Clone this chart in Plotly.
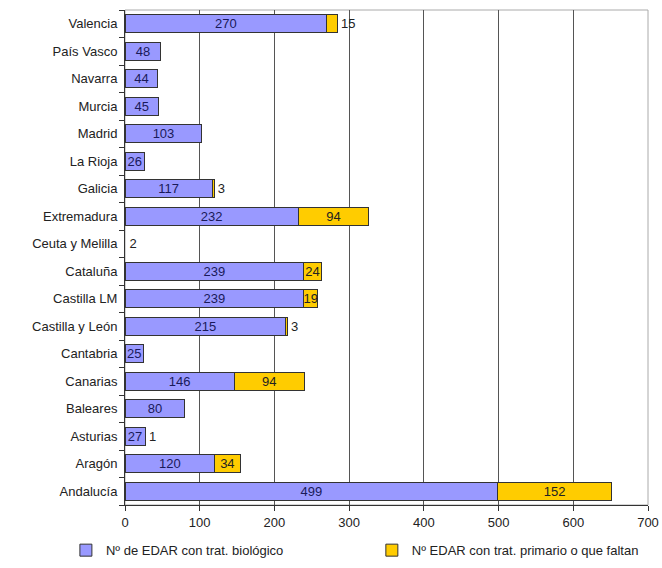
import plotly.graph_objects as go

categories = ["Andalucía", "Aragón", "Asturias", "Baleares", "Canarias", "Cantabria",
              "Castilla y León", "Castilla LM", "Cataluña", "Ceuta y Melilla", "Extremadura",
              "Galicia", "La Rioja", "Madrid", "Murcia", "Navarra", "País Vasco", "Valencia"]
biologico = [499, 120, 27, 80, 146, 25, 215, 239, 239, None, 232, 117, 26, 103, 45, 44, 48, 270]
primario = [152, 34, 1, None, 94, None, 3, 19, 24, 2, 94, 3, None, None, None, None, None, 15]
x_ticks = [0, 100, 200, 300, 400, 500, 600, 700]

name_bio = "Nº de EDAR con trat. biológico"
name_pri = "Nº EDAR con trat. primario o que faltan"

font_family = "Liberation Sans, Arial, sans-serif"

def lbl(v):
    return "" if v is None else str(v)

pri_pos = ["outside" if (v is not None and v < 16) else "inside" for v in primario]
pri_line_w = [0 if c == "Ceuta y Melilla" else 1 for c in categories]
pri_colors = ["rgba(0,0,0,0)" if c == "Ceuta y Melilla" else "#FFCC00" for c in categories]

fig = go.Figure()
fig.add_trace(go.Bar(
    y=categories, x=biologico, orientation="h", name=name_bio, legend="legend",
    showlegend=True,
    marker=dict(color="#9999FF", line=dict(color="#333333", width=1)),
    text=[lbl(v) for v in biologico], textposition="inside", insidetextanchor="middle",
    textangle=0, constraintext="none",
    textfont=dict(color="#1a1a5a", size=13, family=font_family),
))
fig.add_trace(go.Bar(
    y=categories, x=primario, orientation="h", name=name_pri, legend="legend2",
    showlegend=True,
    marker=dict(color=pri_colors, line=dict(color="#333333", width=pri_line_w)),
    text=[lbl(v) for v in primario], textposition=pri_pos, insidetextanchor="middle",
    textangle=0, constraintext="none", cliponaxis=False,
    textfont=dict(color="#222222", size=13, family=font_family),
))

fig.update_layout(
    barmode="stack", bargap=0.34,
    width=662, height=568,
    margin=dict(l=125, r=14, t=10, b=63, autoexpand=False),
    paper_bgcolor="white", plot_bgcolor="white",
    font=dict(family=font_family, size=12, color="#222222"),
    showlegend=True,
    legend=dict(orientation="h", x=-0.113, xanchor="left", y=-0.061, yanchor="top",
                font=dict(size=13), itemclick=False, bgcolor="rgba(0,0,0,0)"),
    legend2=dict(orientation="h", x=0.472, xanchor="left", y=-0.061, yanchor="top",
                 font=dict(size=13), itemclick=False, bgcolor="rgba(0,0,0,0)"),
    xaxis=dict(range=[0, 700], tickvals=x_ticks, showgrid=True, gridcolor="#555555",
               gridwidth=1, showline=True, linecolor="#333333", linewidth=1,
               ticks="outside", ticklen=5, tickcolor="#333333", zeroline=False,
               automargin=False, tickfont=dict(size=13, color="#222222")),
    yaxis=dict(categoryorder="array", categoryarray=categories, showline=True,
               linecolor="#333333", linewidth=1, ticks="outside", tickson="boundaries",
               ticklen=5, tickcolor="#333333", showgrid=False, automargin=False,
               ticklabelstandoff=4,
               tickfont=dict(size=13, color="#222222")),
    shapes=[dict(type="rect", xref="paper", yref="paper", x0=0, x1=1, y0=0, y1=1,
                 line=dict(color="#aaaaaa", width=1), layer="below")],
)

fig.write_html("out.html", config={"displayModeBar": False},
               post_script="document.body.style.margin='0';document.body.style.overflow='hidden';")
